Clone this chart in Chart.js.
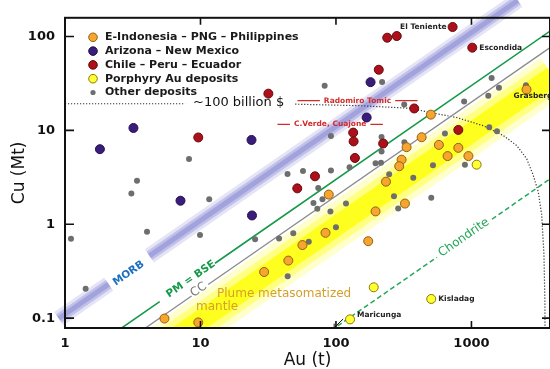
<!DOCTYPE html>
<html>
<head>
<meta charset="utf-8">
<script src="https://cdn.jsdelivr.net/npm/chart.js@4.4.1/dist/chart.umd.min.js"></script>
<style>
html, body { margin: 0; padding: 0; background: #fff; }
#wrap { width: 550px; height: 369px; }
</style>
</head>
<body>
<div id="wrap"><canvas id="chart" width="550" height="369"></canvas></div>
<script>
// axis ticks
const auTicks = [1, 10, 100, 1000];
const auTickLabels = ['1', '10', '100', '1000'];
const cuTicks = [0.1, 1, 10, 100];
const cuTickLabels = ['0.1', '1', '10', '100'];

// deposits : Au (t) / Cu (Mt)
const indoAu = [2550, 502, 429, 575, 800, 667, 950, 332, 305, 293, 234, 88.5, 323, 196, 83.7, 56.6, 173, 44.5, 29.5, 5.42, 9.63];
const indoCu = [27.2, 14.7, 8.44, 7.0, 6.51, 5.32, 5.32, 6.62, 4.87, 4.15, 2.84, 2.07, 1.66, 1.37, 0.81, 0.60, 0.66, 0.41, 0.31, 0.099, 0.090];

const arizAu = [3.2, 1.81, 23.8, 180, 168.5, 7.12, 24];
const arizCu = [10.6, 6.3, 7.9, 32.6, 13.7, 1.78, 1.24];

const chileAu = [726, 239, 281, 1014, 207, 31.7, 378, 9.63, 134, 135, 223, 800, 138, 70, 51.8];
const chileCu = [126, 97, 101, 76, 44.2, 24.6, 17.1, 8.4, 9.46, 7.62, 7.24, 10.1, 5.08, 3.24, 2.41];

const porphAu = [1092, 190, 505, 127];
const porphCu = [4.31, 0.213, 0.160, 0.097];

const otherAu = [1409, 1596, 1331, 883, 2525, 219, 82.5, 319, 1353, 1543, 637, 91.8, 217, 320, 217, 520, 895, 196, 215, 126,
  91.8, 57.1, 43.9, 8.23, 3.4, 3.09, 11.6, 1.107, 4.03, 9.92, 25.3, 38, 48.4, 1.42, 44, 372, 247, 74, 68.2, 79.5,
  72.8, 118.6, 91, 268, 288, 100, 63, 505];
const otherCu = [36.1, 28.4, 23.4, 20.3, 30.3, 32.8, 29.8, 18.8, 10.8, 9.76, 9.26, 8.69, 8.5, 7.48, 5.97, 4.25, 4.31, 4.46, 4.53, 4.05,
  3.73, 3.69, 3.43, 4.95, 2.9, 2.13, 1.85, 0.70, 0.83, 0.766, 0.69, 0.707, 0.80, 0.206, 0.279, 3.13, 3.4, 2.43, 1.68, 1.85,
  1.46, 1.66, 1.37, 1.99, 1.47, 0.93, 0.65, 1.91];

// reference lines (null = gap for the label)
const morbAu = [0.9, 2.1, 3, 4.2, 2200];
const morbCu = [0.099, 0.23, null, 0.46, 242];
const pmAu = [2.5, 5, 8, 12.8, 4000];
const pmCu = [0.075, 0.15, null, 0.384, 120];
const ccAu = [3.7, 8.6, 10, 11.4, 4000];
const ccCu = [0.074, 0.172, null, 0.228, 80];
const chonAu = [92, 556, 900, 1417, 4000];
const chonCu = [0.074, 0.445, null, 1.13, 3.2];
const plumeAu = [5, 4000];
const plumeCu = [0.0475, 38];

// ~100 billion $ line
const dollarLeftAu = [1, 7.7];
const dollarLeftCu = [19.2, 19.2];
const dollarAu = [50, 150, 352, 494, 778, 1222, 1718, 2157, 2555, 2858, 3112, 3297, 3428, 3486, 3490];
const dollarCu = [19.0, 18.3, 17.2, 15.5, 13.7, 11.2, 8.8, 6.9, 4.99, 3.33, 2.22, 1.27, 0.48, 0.144, 0.07];

// red notes
const noteText = ['Radomiro Tomic', 'C.Verde, Cuajone'];
const noteCu = [20.7, 11.6];
const noteAuFrom = [52, 37];
const noteAuTo = [400, 222];

// named deposits
const nameText = ['El Teniente', 'Escondida', 'Grasberg', 'Kisladag', 'Maricunga'];
const nameAu = [726, 1014, 2550, 505, 127];
const nameCu = [126, 76, 27.2, 0.160, 0.097];

const arrowAu = [113, 97];
const arrowCu = [0.098, 0.079];

function pts(xs, ys) {
  return xs.map((v, i) => ({ x: v, y: ys[i] }));
}

function lineSet(xs, ys, color, width, order, extra) {
  return Object.assign({
    type: 'line', data: pts(xs, ys), borderColor: color, borderWidth: width,
    pointRadius: 0, showLine: true, spanGaps: false, tension: 0, clip: 0, order: order, fill: false
  }, extra || {});
}

const datasets = [
  { label: 'E-Indonesia – PNG – Philippines', data: pts(indoAu, indoCu), backgroundColor: '#f5a530', borderColor: '#94600c', borderWidth: 1, pointRadius: 4.5, order: 1 },
  { label: 'Arizona – New Mexico', data: pts(arizAu, arizCu), backgroundColor: '#3a1c7c', borderColor: '#24104f', borderWidth: 1, pointRadius: 4.5, order: 1 },
  { label: 'Chile – Peru – Ecuador', data: pts(chileAu, chileCu), backgroundColor: '#ad101a', borderColor: '#650a0e', borderWidth: 1, pointRadius: 4.5, order: 1 },
  { label: 'Porphyry Au deposits', data: pts(porphAu, porphCu), backgroundColor: '#ffff33', borderColor: '#8a7a00', borderWidth: 1, pointRadius: 4.5, order: 1 },
  { label: 'Other deposits', data: pts(otherAu, otherCu), backgroundColor: '#6e6e6e', borderWidth: 0, pointRadius: 3, order: 2 },

  lineSet(pmAu, pmCu, '#169a4a', 1.6, 5),
  lineSet(ccAu, ccCu, '#8c8c8c', 1.3, 5),
  lineSet(chonAu, chonCu, '#25a858', 1.5, 5, { borderDash: [5, 3] }),
  lineSet(dollarLeftAu, dollarLeftCu, '#333', 1.2, 5, { borderDash: [1.2, 1.8] }),
  lineSet(dollarAu, dollarCu, '#333', 1.2, 5, { borderDash: [1.2, 1.8] }),

  lineSet(morbAu, morbCu, 'rgba(165,165,225,0.3)', 16, 10, { clip: false }),
  lineSet(morbAu, morbCu, 'rgba(140,140,212,0.45)', 10, 10, { clip: false }),
  lineSet(morbAu, morbCu, 'rgba(118,118,200,0.55)', 5, 10, { clip: false }),
  lineSet(plumeAu, plumeCu, 'rgba(255,255,60,0.25)', 44, 12),
  lineSet(plumeAu, plumeCu, 'rgba(255,255,30,0.45)', 32, 12),
  lineSet(plumeAu, plumeCu, '#ffff10', 20, 12)
];

function text(ctx, str, px, py, font, color, align, angle) {
  ctx.save();
  ctx.translate(px, py);
  if (angle) ctx.rotate(angle);
  ctx.font = font;
  ctx.fillStyle = color;
  ctx.textAlign = align || 'center';
  ctx.textBaseline = 'middle';
  ctx.fillText(str, 0, 0);
  ctx.restore();
}

function slope(x, y, xs, ys) {
  const n = xs.length - 1;
  return Math.atan2(y.getPixelForValue(ys[n]) - y.getPixelForValue(ys[0]),
                    x.getPixelForValue(xs[n]) - x.getPixelForValue(xs[0]));
}

const notes = {
  id: 'notes',
  afterDatasetsDraw(chart) {
    const { ctx, scales: { x, y } } = chart;
    const P = (a, c) => [x.getPixelForValue(a), y.getPixelForValue(c)];
    let p;

    p = P(2.95, 0.30);
    text(ctx, 'MORB', p[0], p[1], 'bold 10.5px "DejaVu Sans"', '#1f6fbf', 'center', slope(x, y, morbAu, morbCu));
    p = P(8.5, 0.26);
    text(ctx, 'PM = BSE', p[0], p[1], 'bold 10.5px "DejaVu Sans"', '#169a4a', 'center', slope(x, y, pmAu, pmCu));
    p = P(9.7, 0.2);
    text(ctx, 'CC', p[0], p[1], '12px "DejaVu Sans"', '#777', 'center', slope(x, y, ccAu, ccCu));
    p = P(880, 0.72);
    text(ctx, 'Chondrite', p[0], p[1], '12px "DejaVu Sans"', '#25a858', 'center', slope(x, y, chonAu, chonCu));

    p = P(13.25, 0.183);
    text(ctx, 'Plume metasomatized', p[0], p[1], '12px "DejaVu Sans"', '#d49f2a', 'left');
    p = P(9.27, 0.131);
    text(ctx, 'mantle', p[0], p[1], '12px "DejaVu Sans"', '#d49f2a', 'left');

    p = P(8.81, 19.7);
    text(ctx, '~100 billion $', p[0], p[1], '13px "DejaVu Sans"', '#111', 'left');

    // red notes with dashes either side
    noteText.forEach((t, i) => {
      const x0 = x.getPixelForValue(noteAuFrom[i]);
      const x1 = x.getPixelForValue(noteAuTo[i]);
      const py = y.getPixelForValue(noteCu[i]);
      const cx = (x0 + x1) / 2;
      ctx.font = 'bold 7.5px "DejaVu Sans"';
      const w = ctx.measureText(t).width;
      ctx.strokeStyle = '#d42a2a';
      ctx.lineWidth = 1.3;
      ctx.beginPath();
      ctx.moveTo(x0, py); ctx.lineTo(cx - w / 2 - 4, py);
      ctx.moveTo(cx + w / 2 + 4, py); ctx.lineTo(x1, py);
      ctx.stroke();
      text(ctx, t, cx, py, 'bold 7.5px "DejaVu Sans"', '#d42a2a', 'center');
    });

    // deposit names
    const off = [[-6, 0, 'right'], [7, 0, 'left'], [-13, 7, 'left'], [7, 0, 'left'], [7, -4, 'left']];
    nameText.forEach((t, i) => {
      const q = P(nameAu[i], nameCu[i]);
      text(ctx, t, q[0] + off[i][0], q[1] + off[i][1], 'bold 7.5px "DejaVu Sans"', '#222', off[i][2]);
    });

    // arrow near Maricunga
    const a0 = P(arrowAu[0], arrowCu[0]);
    const a1 = P(arrowAu[1], arrowCu[1]);
    ctx.save();
    ctx.strokeStyle = '#111';
    ctx.lineWidth = 1;
    ctx.beginPath();
    ctx.moveTo(a0[0], a0[1]); ctx.lineTo(a1[0], a1[1]);
    ctx.moveTo(a1[0], a1[1]); ctx.lineTo(a1[0] + 4, a1[1]);
    ctx.moveTo(a1[0], a1[1]); ctx.lineTo(a1[0], a1[1] - 4);
    ctx.stroke();
    ctx.restore();

    // legend inside the plot
    const area = chart.chartArea;
    for (let i = 0; i < 5; i++) {
      const ds = chart.data.datasets[i];
      const lx = area.left + 28;
      const ly = area.top + 19.5 + i * 13.8;
      ctx.beginPath();
      ctx.arc(lx, ly, i === 4 ? 2.6 : 4.3, 0, Math.PI * 2);
      ctx.fillStyle = ds.backgroundColor;
      ctx.fill();
      if (ds.borderWidth) {
        ctx.strokeStyle = ds.borderColor;
        ctx.lineWidth = 1;
        ctx.stroke();
      }
      text(ctx, ds.label, lx + 12, ly, 'bold 11px "DejaVu Sans"', '#1a1a1a', 'left');
    }
  }
};

const frame = {
  id: 'frame',
  afterDraw(chart) {
    const { ctx, chartArea: a, scales: { x, y } } = chart;
    ctx.save();
    ctx.strokeStyle = '#111';
    ctx.lineWidth = 2;
    ctx.strokeRect(a.left, a.top, a.right - a.left, a.bottom - a.top);
    ctx.lineWidth = 1.6;
    ctx.beginPath();
    auTicks.forEach(v => {
      const px = x.getPixelForValue(v);
      if (px <= a.left + 1) return;
      ctx.moveTo(px, a.bottom); ctx.lineTo(px, a.bottom - 7);
      ctx.moveTo(px, a.top); ctx.lineTo(px, a.top + 7);
    });
    cuTicks.forEach(v => {
      const py = y.getPixelForValue(v);
      ctx.moveTo(a.left, py); ctx.lineTo(a.left + 9, py);
      ctx.moveTo(a.right, py); ctx.lineTo(a.right - 8, py);
    });
    ctx.stroke();
    ctx.restore();

    text(ctx, 'Au (t)', (a.left + a.right) / 2, 361, '17px "DejaVu Sans"', '#111', 'center');
    text(ctx, 'Cu (Mt)', 20, (a.top + a.bottom) / 2, '17px "DejaVu Sans"', '#111', 'center', -Math.PI / 2);
  }
};

new Chart(document.getElementById('chart'), {
  type: 'scatter',
  data: { datasets: datasets },
  options: {
    responsive: false,
    animation: false,
    devicePixelRatio: 1,
    layout: { autoPadding: false, padding: { top: 14, left: 0, right: 0, bottom: 0 } },
    plugins: { legend: { display: false }, tooltip: { enabled: false } },
    scales: {
      x: {
        type: 'logarithmic', min: 1, max: 3800, bounds: 'data',
        grid: { display: false, drawTicks: false }, border: { display: false },
        afterBuildTicks: s => { s.ticks = auTicks.map(v => ({ value: v })); },
        afterFit: s => { s.height = 41; },
        ticks: {
          padding: 8, color: '#111', maxRotation: 0, autoSkip: false,
          font: { family: 'DejaVu Sans', weight: 'bold', size: 13 },
          callback: (v, i) => auTickLabels[i]
        }
      },
      y: {
        type: 'logarithmic', min: 0.0785, max: 158, bounds: 'data',
        grid: { display: false, drawTicks: false }, border: { display: false },
        afterBuildTicks: s => { s.ticks = cuTicks.map(v => ({ value: v })); },
        afterFit: s => { s.width = 65; },
        ticks: {
          padding: 10, color: '#111', autoSkip: false,
          font: { family: 'DejaVu Sans', weight: 'bold', size: 13 },
          callback: (v, i) => cuTickLabels[i]
        }
      }
    }
  },
  plugins: [notes, frame]
});
</script>
</body>
</html>
